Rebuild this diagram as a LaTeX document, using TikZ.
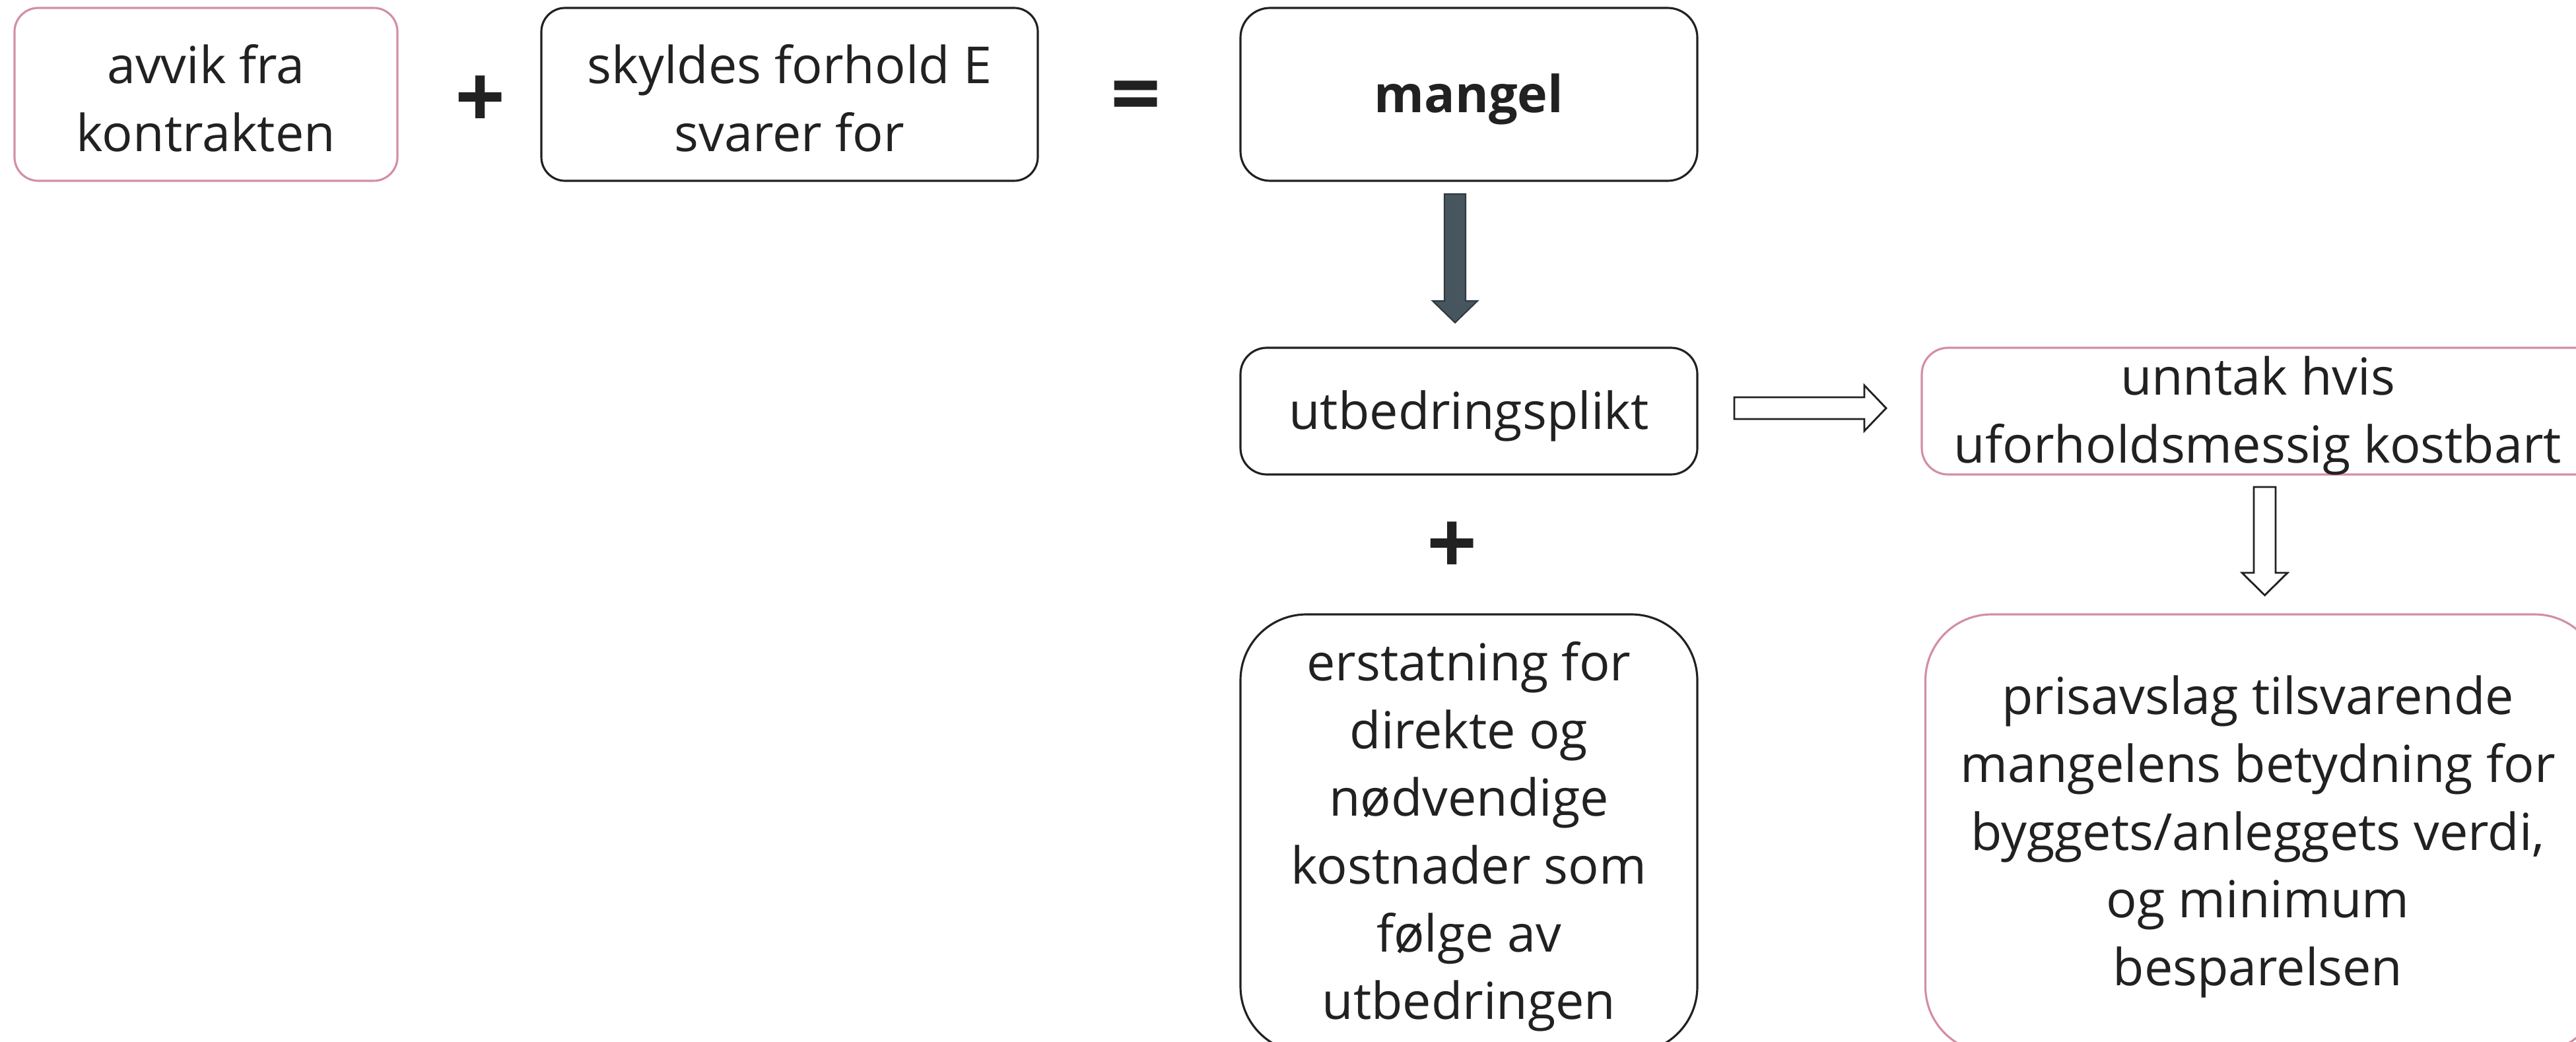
\documentclass[tikz,border=0pt]{standalone}
\usepackage{fontspec}
\setmainfont{Open Sans}
\begin{document}
\definecolor{pinkline}{RGB}{212,141,168}
\definecolor{txt}{RGB}{33,33,33}
\definecolor{darkarrow}{RGB}{71,85,94}
\definecolor{darkedge}{RGB}{47,58,64}
\begin{tikzpicture}[
  box/.style={draw=txt, line width=0.9pt, rounded corners=0.4cm, inner sep=0pt},
  pinkbox/.style={box, draw=pinkline},
  label text/.style={align=center, text=txt, font=\fontsize{22}{29.2}\selectfont, inner sep=0pt},
  sign/.style={text=txt, font=\fontsize{38}{40}\selectfont\bfseries, inner sep=0pt},
  blockarrow/.style={draw=txt, line width=0.8pt, fill=white, line join=miter},
]
\clip (0,0) rectangle (39.02,-15.79);
\fill[white] (0,0) rectangle (39.02,-15.79);

% top row
\node[pinkbox, minimum width=5.80cm, minimum height=2.62cm, rounded corners=0.36cm] (avvik) at (3.12,-1.43) {};
\node[label text] (avvik-t) at ([yshift=-0.06cm]avvik.center) {avvik fra\\kontrakten};
\node[sign] (plus1) at (7.28,-1.55) {+};
\node[box, minimum width=7.52cm, minimum height=2.62cm, rounded corners=0.36cm] (skyld) at (11.96,-1.43) {};
\node[label text] (skyld-t) at ([yshift=-0.06cm]skyld.center) {skyldes forhold E\\svarer for};
\node[sign] (eq) at (17.21,-1.56) {=};
\node[box, minimum width=6.92cm, minimum height=2.62cm, rounded corners=0.45cm] (mangel) at (22.25,-1.43) {};
\node[label text, font=\fontsize{22}{29.2}\selectfont\bfseries] (mangel-t) at ([yshift=-0.07cm]mangel.center) {mangel};

% middle row
\node[box, minimum width=6.92cm, minimum height=1.92cm] (utbed) at (22.25,-6.23) {};
\node[label text] (utbed-t) at ([yshift=-0.07cm]utbed.center) {utbedringsplikt};
\node[pinkbox, minimum width=10.34cm, minimum height=1.92cm] (unntak) at (34.28,-6.23) {};
\node[label text] (unntak-t) at ([xshift=-0.08cm,yshift=-0.07cm]unntak.center) {unntak hvis\\uforholdsmessig kostbart};
\node[sign] (plus2) at (22.00,-8.31) {+};

% bottom row
\node[box, minimum width=6.92cm, minimum height=6.64cm, rounded corners=1.0cm] (erst) at (22.25,-12.63) {};
\node[label text] (erst-t) at ([yshift=-0.05cm]erst.center) {erstatning for\\direkte og\\nødvendige\\kostnader som\\følge av\\utbedringen};
\node[pinkbox, minimum width=10.23cm, minimum height=6.64cm, rounded corners=1.0cm] (pris) at (34.28,-12.63) {};
\node[label text] (pris-t) at ([xshift=-0.08cm,yshift=-0.05cm]pris.center) {prisavslag tilsvarende\\mangelens betydning for\\byggets/anleggets verdi,\\og minimum\\besparelsen};

% dark arrow mangel -> utbedringsplikt
\draw[fill=darkarrow, draw=darkedge, line width=0.6pt, line join=miter]
  (21.88,-2.94) -- (22.20,-2.94) -- (22.20,-4.56) -- (22.38,-4.56) -- (22.04,-4.89)
  -- (21.70,-4.56) -- (21.88,-4.56) -- cycle;

% white arrow utbedringsplikt -> unntak
\draw[blockarrow]
  (26.27,-6.02) -- (28.24,-6.02) -- (28.24,-5.84) -- (28.57,-6.185) -- (28.24,-6.53)
  -- (28.24,-6.35) -- (26.27,-6.35) -- cycle;

% white arrow unntak -> prisavslag
\draw[blockarrow]
  (34.14,-7.38) -- (34.47,-7.38) -- (34.47,-8.68) -- (34.65,-8.68) -- (34.305,-9.02)
  -- (33.96,-8.68) -- (34.14,-8.68) -- cycle;
\end{tikzpicture}
\end{document}
